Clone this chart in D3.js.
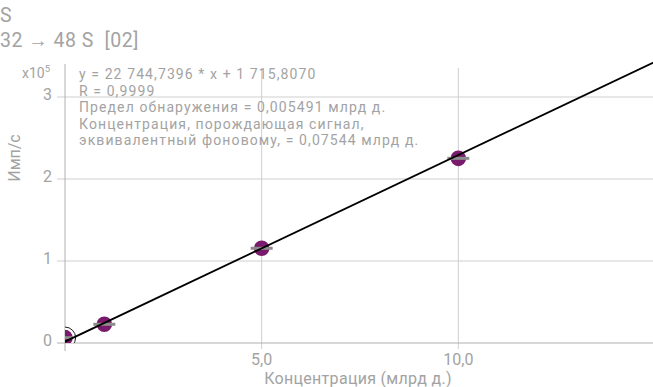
<!DOCTYPE html>
<html>
<head>
<meta charset="utf-8">
<script src="https://cdn.jsdelivr.net/npm/d3@7"></script>
<style>
  body { margin: 0; background: #fff; }
  svg { font-family: Roboto, "Noto Sans", sans-serif; }
</style>
</head>
<body>
<svg id="chart" width="653" height="387"></svg>
<script>
// calibration points (concentration, ppb) and measured signal (cps)
const concentrations = [0, 1, 5, 10]
const signals = [6500, 22800, 115500, 225200]
const fitSlope = 22744.7396
const fitIntercept = 1715.8070
const xTicks = [5, 10]
const yTicks = [0, 1, 2, 3]
const annotationLines = [
  'y = 22 744,7396 * x + 1 715,8070',
  'R = 0,9999',
  'Предел обнаружения = 0,005491 млрд д.',
  'Концентрация, порождающая сигнал,',
  'эквивалентный фоновому, = 0,07544 млрд д.'
]

const margin = { top: 56, right: 0, bottom: 44, left: 65 }
const width = 653
const height = 387
const svg = d3.select('#chart')

const x = d3.scaleLinear().domain([0, 15]).range([margin.left, 655])
const y = d3.scaleLinear().domain([0, 3.5]).range([height - margin.bottom, margin.top])

const textGray = '#a3a3a3'
const gridGray = '#cfcfcf'
const axisGray = '#b0b0b0'

// titles
svg.append('text').attr('x', 0).attr('y', 22).attr('font-size', 19.5).attr('fill', textGray).text('S')
svg.append('text').attr('x', 0).attr('y', 47).attr('font-size', 19.5).attr('fill', textGray)
  .attr('letter-spacing', 0.5).attr('xml:space', 'preserve').text('32 → 48 S  [02]')

// grid
svg.append('g').selectAll('line.h').data(yTicks.filter(d => d > 0)).join('line')
  .attr('x1', x(0) - 8).attr('x2', width)
  .attr('y1', d => y(d)).attr('y2', d => y(d))
  .attr('stroke', gridGray)
svg.append('g').selectAll('line.v').data(xTicks).join('line')
  .attr('x1', d => x(d)).attr('x2', d => x(d))
  .attr('y1', margin.top + 12).attr('y2', y(0) + 6)
  .attr('stroke', gridGray)

// axes lines
svg.append('line').attr('x1', x(0)).attr('x2', x(0)).attr('y1', margin.top + 8).attr('y2', y(0) + 8)
  .attr('stroke', axisGray)
svg.append('line').attr('x1', x(0) - 8).attr('x2', width).attr('y1', y(0)).attr('y2', y(0))
  .attr('stroke', axisGray)

// tick labels
svg.append('g').selectAll('text').data(yTicks).join('text')
  .attr('x', x(0) - 13).attr('y', d => y(d) + 3)
  .attr('text-anchor', 'end').attr('font-size', 16).attr('fill', textGray)
  .text(d => d)
svg.append('g').selectAll('text').data(xTicks).join('text')
  .attr('x', d => x(d)).attr('y', y(0) + 22)
  .attr('text-anchor', 'middle').attr('font-size', 16).attr('fill', textGray)
  .text(d => d3.format('.1f')(d).replace('.', ','))

const exp = svg.append('text').attr('x', 50).attr('y', 78).attr('text-anchor', 'end')
  .attr('font-size', 14).attr('fill', textGray)
exp.append('tspan').text('x10')
exp.append('tspan').attr('dy', -6).attr('font-size', 9.5).text('5')

svg.append('text')
  .attr('transform', `translate(20, ${y(2) - 21}) rotate(-90)`)
  .attr('text-anchor', 'middle').attr('font-size', 16).attr('fill', textGray)
  .text('Имп/с')
svg.append('text').attr('x', 358).attr('y', 384)
  .attr('text-anchor', 'middle').attr('font-size', 16).attr('letter-spacing', 0.3).attr('fill', textGray)
  .text('Концентрация (млрд д.)')

// annotation
svg.append('g').selectAll('text').data(annotationLines).join('text')
  .attr('x', 79).attr('y', (d, i) => 79 + i * 16.5)
  .attr('font-size', 14).attr('letter-spacing', 1.1)
  .attr('fill', textGray)
  .text(d => d)

// plot contents, clipped
svg.append('clipPath').attr('id', 'plot').append('rect')
  .attr('x', x(0)).attr('y', 0).attr('width', width - x(0)).attr('height', y(0))
const plot = svg.append('g').attr('clip-path', 'url(#plot)')

const points = concentrations.map((c, i) => ({ c, s: signals[i] / 1e5 }))

plot.append('g').selectAll('circle').data(points).join('circle')
  .attr('cx', d => x(d.c)).attr('cy', d => y(d.s)).attr('r', 7.8)
  .attr('fill', '#7a1a6c')

plot.append('g').selectAll('line').data(points).join('line')
  .attr('x1', d => x(d.c) - 11).attr('x2', d => x(d.c) + 11)
  .attr('y1', d => y(d.s)).attr('y2', d => y(d.s))
  .attr('stroke', '#8c8c8c').attr('stroke-width', 3)

// highlighted blank point
plot.append('circle').attr('cx', x(points[0].c)).attr('cy', y(points[0].s)).attr('r', 9.2)
  .attr('fill', 'none').attr('stroke', '#fff').attr('stroke-width', 2)
plot.append('circle').attr('cx', x(points[0].c)).attr('cy', y(points[0].s)).attr('r', 10.6)
  .attr('fill', 'none').attr('stroke', '#222').attr('stroke-width', 1)

const fitLine = d3.line().x(d => x(d)).y(d => y((fitSlope * d + fitIntercept) / 1e5))
plot.append('path').datum([0, 15]).attr('d', fitLine)
  .attr('fill', 'none').attr('stroke', '#000').attr('stroke-width', 1.8)
</script>
</body>
</html>
